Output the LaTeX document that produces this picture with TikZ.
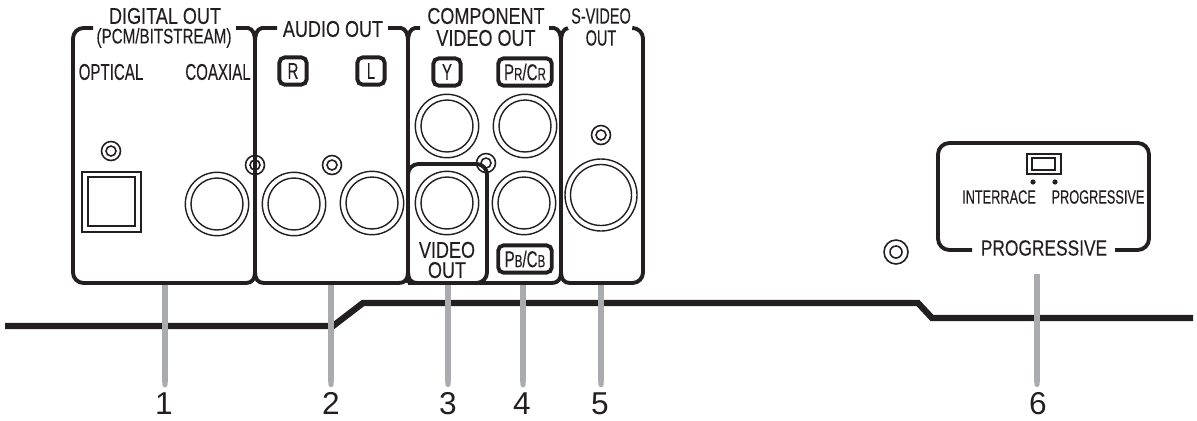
\documentclass[tikz,border=0pt]{standalone}
\usepackage{fontspec}
\usetikzlibrary{arrows.meta}
\setmainfont{Liberation Sans}
\newfontfamily\wideFace[FakeStretch=0.79,FakeBold=0.25]{Liberation Sans}
\newfontfamily\midFace[FakeStretch=0.72,FakeBold=0.25]{Liberation Sans}
\newfontfamily\slimFace[FakeStretch=0.66,FakeBold=0.25]{Liberation Sans}
\definecolor{leaderColor}{RGB}{170,171,175}
\definecolor{panelColor}{RGB}{35,31,32}

\begin{document}
\begin{tikzpicture}[x=0.02cm,y=-0.02cm,color=panelColor]
            \tikzset{panel/.style={line width=2.2pt, rounded corners=6pt},
                jack/.style={line width=0.8pt},
                hole/.style={line width=0.9pt},
                leader/.style={-{Round Cap}, line width=2.9pt, color=leaderColor, shorten >=2pt},
                board/.style={line width=3.6pt, line join=miter},
                head/.style={font=\fontsize{13}{12.5}\wideFace, inner sep=0pt, align=center},
                slim/.style={font=\fontsize{13}{12}\slimFace, inner sep=0pt, align=center},
                tag/.style={draw, line width=2.2pt, rounded corners=3pt, inner sep=0pt, minimum height=15.5pt, font=\fontsize{13}{12}\slimFace},
                num/.style={font=\fontsize{18}{19}\selectfont, inner sep=1pt, outer sep=0pt}}
            \useasboundingbox (0,0) rectangle (1197,420);

            \draw[board] (5,326) -- (333,326) -- (363,303) -- (918,303) -- (932,318) -- (1193,318);

            \node[num] (num1) at (164,403.5) {1};
            \node[num] (num2) at (331,403.5) {2};
            \node[num] (num3) at (448,403.5) {3};
            \node[num] (num4) at (522,403.5) {4};
            \node[num] (num5) at (600,403.5) {5};
            \node[num] (num6) at (1038,403.5) {6};

            \coordinate (digitalfoot) at (165,284);
            \coordinate (audiofoot) at (331,284);
            \coordinate (videofoot) at (448,284);
            \coordinate (componentfoot) at (523,284);
            \coordinate (svideofoot) at (601,284);
            \coordinate (progressivefoot) at (1037,274);

            \draw[leader] (digitalfoot) -- (digitalfoot |- num1.north);
            \draw[leader] (audiofoot) -- (audiofoot |- num2.north);
            \draw[leader] (videofoot) -- (videofoot |- num3.north);
            \draw[leader] (componentfoot) -- (componentfoot |- num4.north);
            \draw[leader] (svideofoot) -- (svideofoot |- num5.north);
            \draw[leader] (progressivefoot) -- (progressivefoot |- num6.north);

            \draw[panel] (93,28) -- (73,28) -- (73,283) -- (247,283);
            \draw[panel] (263,283) -- (400,283);
            \draw[panel] (416,283) -- (553,283);
            \draw[panel] (569,283) -- (643,283) -- (643,28) -- (633,28);
            \foreach \dx/\ltop/\rtop in {255/236/277, 408/388/420, 561/549/568} {
                \draw[line width=2.2pt] (\ltop,28) -- (\dx-7,28) .. controls (\dx-2,29) and (\dx,34) .. (\dx,42) -- (\dx,272) .. controls (\dx,279) and (\dx-3,283) .. (\dx-9,283);
                \draw[line width=2.2pt] (\rtop,28) -- (\dx+7,28) .. controls (\dx+2,29) and (\dx,34) .. (\dx,42);
                \draw[line width=2.2pt] (\dx,272) .. controls (\dx,279) and (\dx+3,283) .. (\dx+9,283);
            }
            \draw[panel] (408,283) -- (408,164) -- (487,164) -- (487,283) -- (408,283);
            \draw[panel, rounded corners=6.5pt] (972,250) -- (938,250) -- (938,143) -- (1149,143) -- (1149,250) -- (1115,250);

            \foreach \cx/\cy in {217/204, 294/204, 372/203, 447/126, 525/126, 447/203, 524/203} {
                \draw[jack] (\cx,\cy) circle (31.7);
                \draw[jack] (\cx,\cy) circle (26);
            }
            \draw[jack] (601,195) circle (36);
            \draw[jack] (601,195) circle (30.5);

            \foreach \cx/\cy in {111/151, 255/165, 332/165, 486/163, 601/135} {
                \draw[hole] (\cx,\cy) circle (9.5);
                \draw[hole] (\cx,\cy) circle (5);
            }
            \draw[hole] (896,252) circle (12);
            \draw[hole] (896,252) circle (6);

            \draw[jack] (82,172) rectangle (141,232);
            \draw[jack] (88,177) rectangle (135,226);
            \draw[jack] (1027,154) rectangle (1061,174);
            \draw[jack] (1032,158) rectangle (1055,170);
            \fill (1033,182) circle (2.6);
            \fill (1055,182) circle (2.6);

            \node[head] (digitalout) at (165,16) {DIGITAL OUT};
            \node[inner sep=0pt, font=\fontsize{12}{12}\midFace] (pcm) at (164,38) {(PCM/BITSTREAM)};
            \node[slim] (optical) at (111,72) {OPTICAL};
            \node[slim] (coaxial) at (218,72) {COAXIAL};
            \node[head] (audioout) at (333,29) {AUDIO OUT};
            \node[head] (componentout) at (486,27) {COMPONENT\\VIDEO OUT};
            \node[slim, font=\fontsize{12.5}{12.5}\slimFace] (svideoout) at (601,27) {S-VIDEO\\OUT};
            \node[head, font=\fontsize{13}{11.5}\wideFace] (videoout) at (447,260) {VIDEO\\OUT};
            \node[head, font=\fontsize{12.5}{12.5}\wideFace] (progressive) at (1044,248) {PROGRESSIVE};
            \node[slim, font=\fontsize{11}{11}\slimFace] (interrace) at (999,197) {INTERRACE};
            \node[slim, font=\fontsize{11}{11}\slimFace] (progressiveon) at (1098,197) {PROGRESSIVE};

            \node[tag, minimum width=15.5pt] (tagr) at (293,71) {R};
            \node[tag, minimum width=15.5pt] (tagl) at (371,71) {L};
            \node[tag, minimum width=15.5pt] (tagy) at (447,72) {Y};
            \node[tag, minimum width=30.5pt] (tagpr) at (525,72) {P{\fontsize{10}{10}\selectfont R}/C{\fontsize{10}{10}\selectfont R}};
            \node[tag, minimum width=30.5pt] (tagpb) at (525,259) {P{\fontsize{10}{10}\selectfont B}/C{\fontsize{10}{10}\selectfont B}};
        \end{tikzpicture}
\end{document}
